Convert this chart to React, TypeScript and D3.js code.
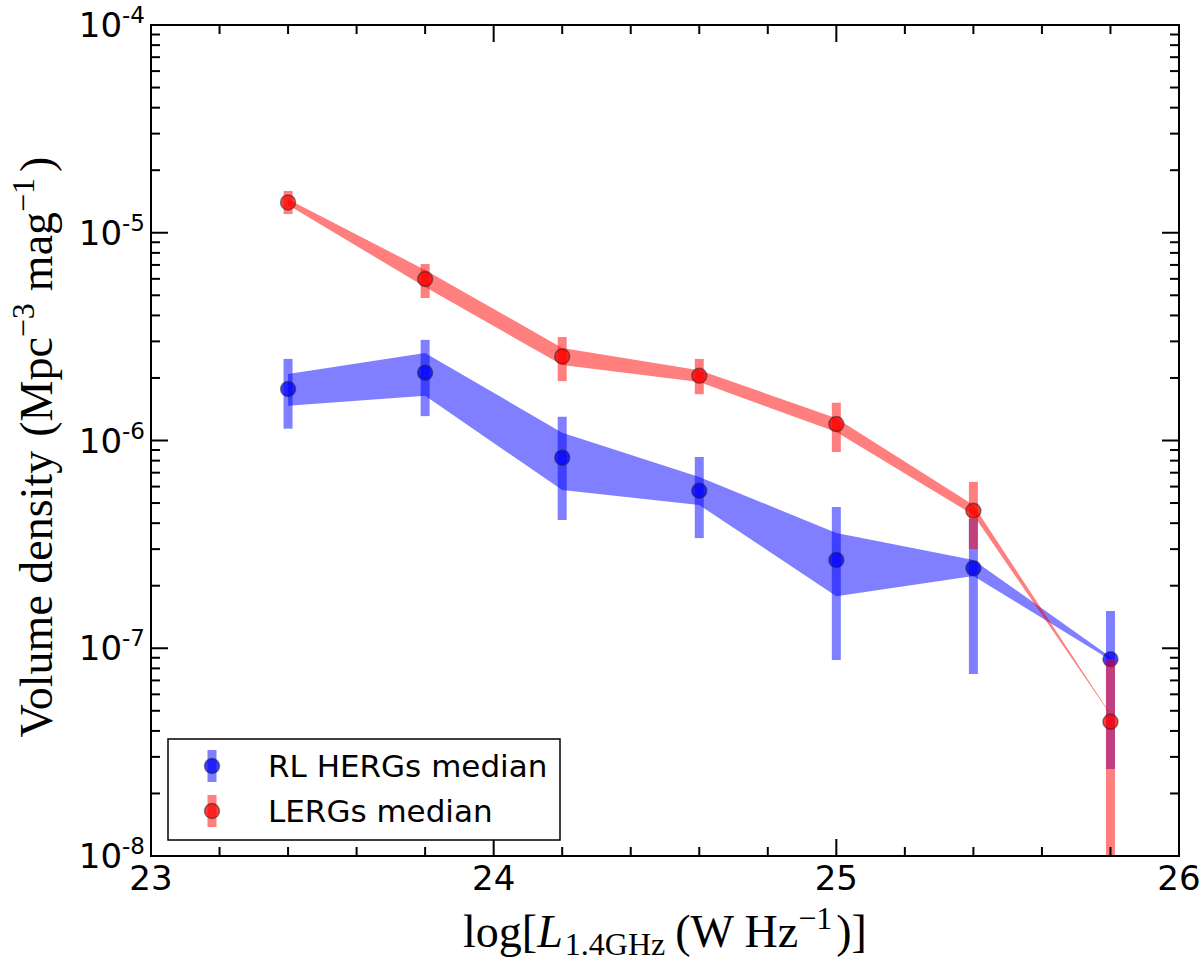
import React from "react"
import * as d3 from "d3"

// luminosity bin centres, log[L_1.4GHz]
const lumBins = [23.4, 23.8, 24.2, 24.6, 25.0, 25.4, 25.8]

// RL HERGs
const hergMedian = [1.77e-6, 2.12e-6, 8.27e-7, 5.73e-7, 2.66e-7, 2.43e-7, 8.85e-8]
const hergErrHi = [2.47e-6, 3.05e-6, 1.3e-6, 8.33e-7, 4.79e-7, 4.19e-7, 1.51e-7]
const hergErrLo = [1.14e-6, 1.31e-6, 4.14e-7, 3.39e-7, 8.78e-8, 7.52e-8, 2.62e-8]
const hergBandHi = [2.09e-6, 2.64e-6, 1.09e-6, 6.67e-7, 3.59e-7, 2.66e-7, 9.08e-8]
const hergBandLo = [1.47e-6, 1.64e-6, 5.78e-7, 4.89e-7, 1.78e-7, 2.23e-7, 8.78e-8]

// LERGs
const lergMedian = [1.4e-5, 5.99e-6, 2.54e-6, 2.05e-6, 1.2e-6, 4.59e-7, 4.43e-8]
const lergErrHi = [1.59e-5, 7.07e-6, 3.15e-6, 2.47e-6, 1.52e-6, 6.32e-7, 8.88e-8]
const lergErrLo = [1.23e-5, 4.85e-6, 1.93e-6, 1.67e-6, 8.8e-7, 3.0e-7, 1e-9]
const lergBandHi = [1.45e-5, 6.62e-6, 2.79e-6, 2.18e-6, 1.28e-6, 4.89e-7, 4.82e-8]
const lergBandLo = [1.36e-5, 5.48e-6, 2.31e-6, 1.91e-6, 1.1e-6, 4.38e-7, 4.78e-8]

const xMajor = [23, 24, 25, 26]
const yMajor = [1e-8, 1e-7, 1e-6, 1e-5, 1e-4]
const yExp = ["-8", "-7", "-6", "-5", "-4"]

const legendLabels = ["RL HERGs median", "LERGs median"]

const BLUE = "#0000ff"
const RED = "#ff0000"

const left = 151
const right = 1179
const top = 25
const bottom = 856

const sans = "'DejaVu Sans', sans-serif"
const serif = "'Liberation Serif', 'DejaVu Serif', serif"

export default function App() {
  const x = d3.scaleLinear().domain([23, 26]).range([left, right])
  const y = d3.scaleLog().domain([1e-8, 1e-4]).range([bottom, top])

  const xMinor = x.ticks(15)
  const yMinor = y.ticks()

  const series = [
    { color: BLUE, med: hergMedian, hi: hergErrHi, lo: hergErrLo, bHi: hergBandHi, bLo: hergBandLo },
    { color: RED, med: lergMedian, hi: lergErrHi, lo: lergErrLo, bHi: lergBandHi, bLo: lergBandLo },
  ]

  const area = (bHi: number[], bLo: number[]) =>
    d3
      .area<number>()
      .x((d) => x(d))
      .y0((d, i) => y(bLo[i]))
      .y1((d, i) => y(bHi[i]))(lumBins) || ""

  return (
    <svg
      width={1200}
      height={968}
      style={{ position: "absolute", left: 0, top: 0, background: "#fff" }}
    >
      <defs>
        <clipPath id="plot">
          <rect x={left} y={top} width={right - left} height={bottom - top} />
        </clipPath>
      </defs>

      <g clipPath="url(#plot)">
        {series.map((s, k) => (
          <g key={k}>
            <path d={area(s.bHi, s.bLo)} fill={s.color} fillOpacity={0.5} stroke="none" />
            {lumBins.map((l, i) => (
              <line
                key={i}
                x1={x(l)}
                x2={x(l)}
                y1={y(s.hi[i])}
                y2={y(s.lo[i])}
                stroke={s.color}
                strokeOpacity={0.5}
                strokeWidth={9}
              />
            ))}
            {lumBins.map((l, i) => (
              <circle
                key={i}
                cx={x(l)}
                cy={y(s.med[i])}
                r={7.5}
                fill={s.color}
                fillOpacity={0.75}
                stroke="#222"
                strokeOpacity={0.5}
                strokeWidth={1.5}
              />
            ))}
          </g>
        ))}
      </g>

      {/* ticks, inward on all four sides */}
      {xMinor.map((t, i) => {
        const major = xMajor.includes(Math.round(t * 10) / 10)
        const len = major ? 17 : 9
        return (
          <g key={i} stroke="#000" strokeWidth={2}>
            <line x1={x(t)} x2={x(t)} y1={bottom} y2={bottom - len} />
            <line x1={x(t)} x2={x(t)} y1={top} y2={top + len} />
          </g>
        )
      })}
      {yMinor.map((t, i) => {
        const major = yMajor.some((m) => Math.abs(m - t) / m < 1e-6)
        const len = major ? 17 : 9
        return (
          <g key={i} stroke="#000" strokeWidth={2}>
            <line x1={left} x2={left + len} y1={y(t)} y2={y(t)} />
            <line x1={right} x2={right - len} y1={y(t)} y2={y(t)} />
          </g>
        )
      })}

      <rect
        x={left}
        y={top}
        width={right - left}
        height={bottom - top}
        fill="none"
        stroke="#000"
        strokeWidth={2}
      />

      {/* tick labels */}
      {xMajor.map((t) => (
        <text key={t} x={x(t)} y={bottom + 34} textAnchor="middle" fontFamily={sans} fontSize={34}>
          {t}
        </text>
      ))}
      {yMajor.map((t, i) => (
        <text key={i} x={left - 6} y={y(t) + 12} textAnchor="end" fontFamily={sans} fontSize={34}>
          10
          <tspan fontSize={23} dy={-14}>
            {yExp[i]}
          </tspan>
        </text>
      ))}

      {/* axis labels */}
      <text x={665} y={947} textAnchor="middle" fontFamily={serif} fontSize={46}>
        log[<tspan fontStyle="italic">L</tspan>
        <tspan fontSize={32} dy={8} dx={2}>1.4GHz</tspan>
        <tspan dy={-8} dx={10}>(W Hz</tspan>
        <tspan fontSize={32} dy={-18}>−1</tspan>
        <tspan dy={18} dx={4}>)]</tspan>
      </text>
      <text
        transform={`translate(52,447) rotate(-90)`}
        textAnchor="middle"
        fontFamily={serif}
        fontSize={46}
      >
        Volume density
        <tspan dx={14}>(Mpc</tspan>
        <tspan fontSize={32} dy={-18}>−3</tspan>
        <tspan dy={18} dx={12}>mag</tspan>
        <tspan fontSize={32} dy={-18}>−1</tspan>
        <tspan dy={18} dx={6}>)</tspan>
      </text>

      {/* legend */}
      <rect x={168} y={739} width={392} height={101} fill="#fff" stroke="#000" strokeWidth={1.5} />
      {legendLabels.map((lab, i) => {
        const cy = 766 + i * 45
        const c = i === 0 ? BLUE : RED
        return (
          <g key={lab}>
            <line x1={212} x2={212} y1={cy - 16} y2={cy + 16} stroke={c} strokeOpacity={0.5} strokeWidth={9} />
            <circle
              cx={212}
              cy={cy}
              r={7.5}
              fill={c}
              fillOpacity={0.75}
              stroke="#222"
              strokeOpacity={0.5}
              strokeWidth={1.5}
            />
            <text x={268} y={cy + 11} fontFamily={sans} fontSize={31}>
              {lab}
            </text>
          </g>
        )
      })}
    </svg>
  )
}
